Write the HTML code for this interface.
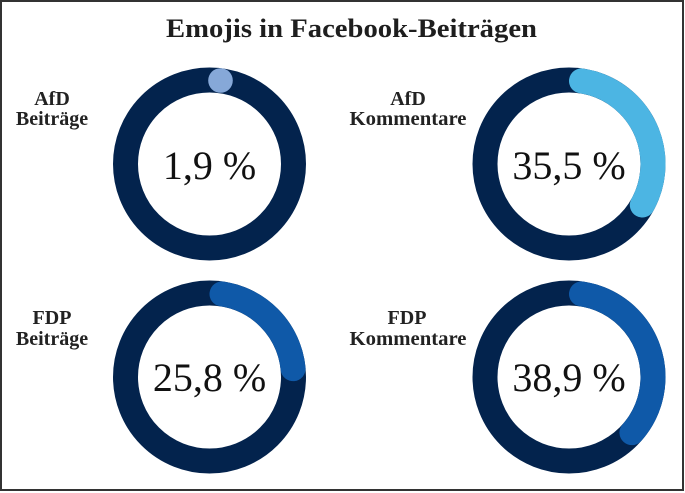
<!DOCTYPE html>
<html>
<head>
<meta charset="utf-8">
<style>
  html, body { margin: 0; padding: 0; background: #ffffff; }
  body { width: 685px; height: 493px; overflow: hidden; }
  svg { display: block; }
</style>
</head>
<body>
<svg width="685" height="493" viewBox="0 0 685 493" xmlns="http://www.w3.org/2000/svg">
  <rect x="0" y="0" width="685" height="493" fill="#ffffff"/>
  <rect x="1" y="1" width="682" height="489" fill="none" stroke="#333333" stroke-width="2"/>

  <!-- Title -->
  <text x="351.5" y="37" text-anchor="middle" font-family="Liberation Serif, serif" font-weight="bold" font-size="26" fill="#1e1e1e" textLength="371" lengthAdjust="spacingAndGlyphs">Emojis in Facebook-Beiträgen</text>

  <!-- Labels -->
  <g font-family="Liberation Serif, serif" font-weight="bold" font-size="20" fill="#222222" text-anchor="middle">
    <text x="52" y="105">AfD</text>
    <text x="52" y="125">Beiträge</text>
    <text x="408" y="105">AfD</text>
    <text x="408" y="125" textLength="117" lengthAdjust="spacingAndGlyphs">Kommentare</text>
    <text x="52" y="324">FDP</text>
    <text x="52" y="345">Beiträge</text>
    <text x="407" y="324">FDP</text>
    <text x="408" y="345" textLength="117" lengthAdjust="spacingAndGlyphs">Kommentare</text>
  </g>

  <!-- Rings -->
  <g fill="none" stroke-width="25">
    <circle cx="209.5" cy="164" r="84" stroke="#03234d"/>
    <circle cx="569" cy="164" r="84" stroke="#03234d"/>
    <circle cx="209.5" cy="377" r="84" stroke="#03234d"/>
    <circle cx="569" cy="377" r="84" stroke="#03234d"/>

    <path d="M 581.5 80.93 A 84 84 0 0 1 642.3 205.0" stroke="#4cb5e3" stroke-linecap="round"/>
    <path d="M 222 293.93 A 84 84 0 0 1 293.09 368.68" stroke="#0f59a8" stroke-linecap="round"/>
    <path d="M 581.5 293.93 A 84 84 0 0 1 631.93 432.64" stroke="#0f59a8" stroke-linecap="round"/>
  </g>
  <circle cx="220.5" cy="80.5" r="12.3" fill="#86a8d8"/>

  <!-- Percent values -->
  <g font-family="Liberation Serif, serif" font-size="40" fill="#111111" text-anchor="middle">
    <text x="209.5" y="179">1,9 %</text>
    <text x="569" y="179">35,5 %</text>
    <text x="209.5" y="391">25,8 %</text>
    <text x="569" y="391">38,9 %</text>
  </g>
</svg>
</body>
</html>
